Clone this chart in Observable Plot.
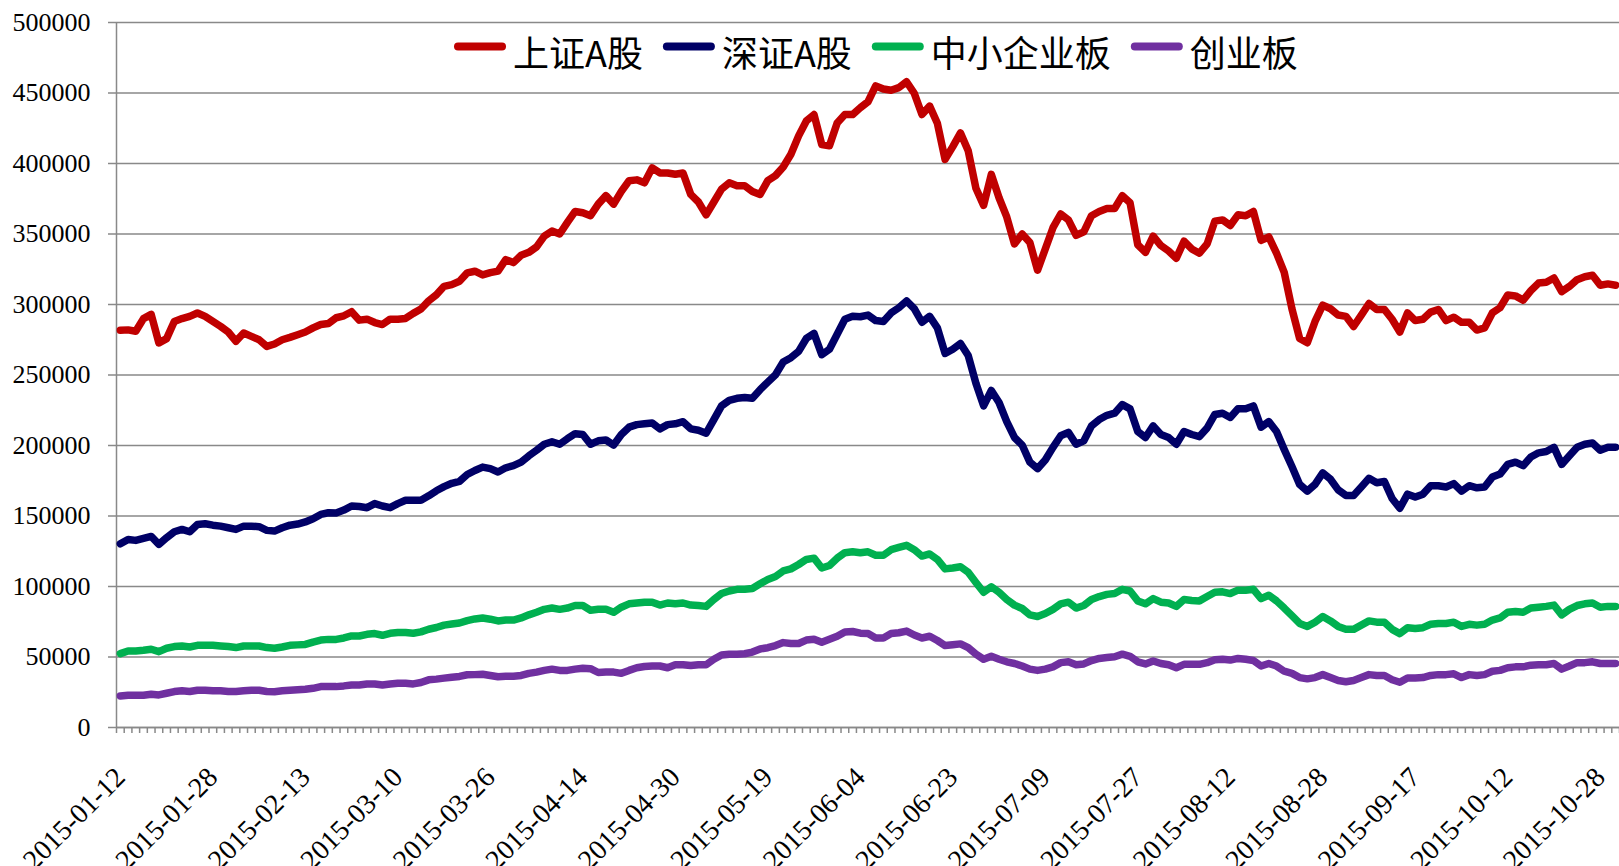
<!DOCTYPE html>
<html><head><meta charset="utf-8">
<script src="https://cdn.jsdelivr.net/npm/d3@7"></script>
<script src="https://cdn.jsdelivr.net/npm/@observablehq/plot@0.6"></script>
<style>
body{margin:0;background:#fff}
#chart{position:relative;width:1619px;height:866px;overflow:hidden}
#chart svg text{font-family:"Liberation Serif","Times New Roman","DejaVu Serif",serif !important;}
#chart svg text.lgtext{font-family:"Noto Sans CJK SC","Noto Sans",sans-serif !important;}
</style>
</head><body><div id="chart"></div>
<script>
const dates = [
"2015-01-12","2015-01-13","2015-01-14","2015-01-15","2015-01-16","2015-01-19","2015-01-20","2015-01-21","2015-01-22","2015-01-23","2015-01-26","2015-01-27","2015-01-28","2015-01-29","2015-01-30",
"2015-02-02","2015-02-03","2015-02-04","2015-02-05","2015-02-06","2015-02-09","2015-02-10","2015-02-11","2015-02-12","2015-02-13","2015-02-16","2015-02-17","2015-02-25","2015-02-26","2015-02-27",
"2015-03-02","2015-03-03","2015-03-04","2015-03-05","2015-03-06","2015-03-09","2015-03-10","2015-03-11","2015-03-12","2015-03-13","2015-03-16","2015-03-17","2015-03-18","2015-03-19","2015-03-20","2015-03-23","2015-03-24","2015-03-25","2015-03-26","2015-03-27","2015-03-30","2015-03-31",
"2015-04-01","2015-04-02","2015-04-03","2015-04-07","2015-04-08","2015-04-09","2015-04-10","2015-04-13","2015-04-14","2015-04-15","2015-04-16","2015-04-17","2015-04-20","2015-04-21","2015-04-22","2015-04-23","2015-04-24","2015-04-27","2015-04-28","2015-04-29","2015-04-30",
"2015-05-04","2015-05-05","2015-05-06","2015-05-07","2015-05-08","2015-05-11","2015-05-12","2015-05-13","2015-05-14","2015-05-15","2015-05-18","2015-05-19","2015-05-20","2015-05-21","2015-05-22","2015-05-25","2015-05-26","2015-05-27","2015-05-28","2015-05-29",
"2015-06-01","2015-06-02","2015-06-03","2015-06-04","2015-06-05","2015-06-08","2015-06-09","2015-06-10","2015-06-11","2015-06-12","2015-06-15","2015-06-16","2015-06-17","2015-06-18","2015-06-19","2015-06-23","2015-06-24","2015-06-25","2015-06-26","2015-06-29","2015-06-30",
"2015-07-01","2015-07-02","2015-07-03","2015-07-06","2015-07-07","2015-07-08","2015-07-09","2015-07-10","2015-07-13","2015-07-14","2015-07-15","2015-07-16","2015-07-17","2015-07-20","2015-07-21","2015-07-22","2015-07-23","2015-07-24","2015-07-27","2015-07-28","2015-07-29","2015-07-30","2015-07-31",
"2015-08-03","2015-08-04","2015-08-05","2015-08-06","2015-08-07","2015-08-10","2015-08-11","2015-08-12","2015-08-13","2015-08-14","2015-08-17","2015-08-18","2015-08-19","2015-08-20","2015-08-21","2015-08-24","2015-08-25","2015-08-26","2015-08-27","2015-08-28","2015-08-31",
"2015-09-01","2015-09-02","2015-09-07","2015-09-08","2015-09-09","2015-09-10","2015-09-11","2015-09-14","2015-09-15","2015-09-16","2015-09-17","2015-09-18","2015-09-21","2015-09-22","2015-09-23","2015-09-24","2015-09-25","2015-09-28","2015-09-29","2015-09-30",
"2015-10-08","2015-10-09","2015-10-12","2015-10-13","2015-10-14","2015-10-15","2015-10-16","2015-10-19","2015-10-20","2015-10-21","2015-10-22","2015-10-23","2015-10-26","2015-10-27","2015-10-28","2015-10-29","2015-10-30"
];

const seriesNames = ["上证A股", "深证A股", "中小企业板", "创业板"];
const seriesColors = ["#C00000", "#000066", "#00B050", "#7030A0"];

const shanghaiA = [
281700,282000,281000,290000,293000,272700,275800,288000,290000,291600,294000,291600,288000,284500,280500,273900,279800,277400,275000,270300,272000,275000,276700,278600,
280500,283400,285800,286500,290600,292000,294900,288900,289600,287200,285800,289600,289600,290100,293700,296800,302600,306900,312900,314100,316500,322400,323600,321000,322600,
323700,331800,329700,334900,337000,340900,348500,352100,350000,358200,366000,365100,363000,371200,377200,371200,380200,387800,388400,386300,396900,393300,393300,
392400,393300,378100,372700,363600,372700,381800,386300,384200,384200,380200,378100,387800,391400,397500,406600,419600,430200,434700,413500,412600,428700,434700,434700,
439500,443800,455000,452800,451900,453800,458000,449800,434700,440700,428600,402900,412000,421700,409000,382400,370300,392300,375700,362100,343000,350000,343900,324300,339400,354500,
364200,360000,349100,351500,363000,366000,368100,368100,377200,372100,342400,337000,348500,341800,337900,332800,344900,339400,336400,343000,359100,360000,356000,363600,
363000,366000,345500,347900,336400,322800,297000,275900,272900,288000,299500,297000,292500,291600,284400,292500,300700,296500,296500,289500,280500,294000,288600,289500,294600,
296500,288600,291000,287400,287400,281900,283400,294000,297700,306700,306100,303100,309800,315200,315800,318800,309100,312800,317600,319700,320700,313700,314600,313700
];

const shenzhenA = [
130300,133400,132700,134100,135500,129900,134600,138800,140500,138800,144000,144500,143500,142800,141700,140500,142800,142800,142400,139800,139300,141700,143500,144300,
145800,148000,151100,152300,152100,154200,157100,156700,155900,158800,157100,155900,158800,161200,161200,161200,164300,167900,170800,173200,174600,179400,182300,184700,
183600,181200,184200,185700,188200,192700,196600,200900,202700,200900,204800,208400,207800,200900,203300,203900,200300,207800,213000,214800,215400,216000,211800,214800,
215400,216900,211800,210800,208700,218400,228100,232000,233500,234100,233500,239600,245000,250200,259200,262300,266800,275900,279500,264400,268300,278900,289500,291600,
291300,292500,288600,288000,294000,297700,302500,297000,287400,291600,283400,265300,268300,272300,263800,244100,228100,239000,230500,216900,205700,200300,188200,183600,189700,198700,
206900,209300,200900,203300,213900,218400,221400,222900,229000,226000,209900,205700,213900,207800,205700,200900,209900,207800,206300,212400,222000,222900,219900,226000,
226000,228100,213000,216900,209900,197200,185100,172400,167600,172400,180600,176100,168500,164600,164600,170600,176700,173600,174500,162400,155500,165500,163400,165500,171500,
171500,170600,173000,167600,171500,170000,170600,177600,179700,186600,188200,185700,191800,194800,195700,198700,186600,192700,198700,200900,201800,196600,198700,198700
];

const smeBoard = [
52400,54300,54300,54800,55500,53800,56200,57400,57800,57100,58300,58300,58300,57800,57400,56700,57800,57800,57800,56700,56200,57100,58300,58600,
58900,60600,62000,62500,62500,63500,64900,64900,66100,66600,65400,66800,67300,67300,66800,67800,69700,70900,72600,73400,74100,75800,77000,77600,
76800,75600,76200,76200,77700,79900,81700,83800,84700,83800,84700,86500,86500,83200,83800,83800,81700,85300,87700,88300,88900,88900,86800,88300,
87700,88300,86800,86500,85900,90800,95000,96800,98000,98000,98600,101900,105000,107100,111000,112500,115600,119200,120100,113100,114900,120100,124000,124600,
123900,124600,122200,122200,126100,127700,129200,126100,121600,123100,119200,112500,113100,114000,110100,102900,95900,99800,95900,90800,86800,84400,79900,78700,80800,83800,
87700,88900,84700,86500,90800,92900,94400,95000,98000,96800,89800,87700,91400,88900,88300,85900,90800,90100,89800,92900,95900,96200,95000,97400,
97400,98000,91400,93800,89800,84700,79300,73800,71700,74700,78700,75600,71700,69600,69600,72600,75600,74700,74700,69600,66600,70800,70200,70800,73200,
73800,73800,74700,71700,73200,72600,73200,76200,77700,81700,82300,81700,84700,85300,85900,86800,79900,83800,86500,87700,88300,85300,85900,85900
];

const chinext = [
22400,22900,22900,22900,23600,23100,24300,25500,26000,25500,26400,26400,26000,26000,25500,25500,26000,26400,26400,25500,25300,26000,26400,26700,
27100,27800,29000,29000,29000,29500,30200,30200,30900,30900,30200,30900,31400,31400,30900,31900,33800,34300,35000,35700,36200,37400,37500,37800,
36900,36000,36300,36300,36900,38400,39300,40500,41400,40500,40500,41400,42000,41700,39000,39300,39300,38400,40500,42400,43300,43600,43600,42400,
44500,44500,43900,44500,44500,48400,51400,52000,52000,52300,53500,55700,56600,58100,60200,59600,59600,62000,62600,60500,62600,64700,67800,68100,
66900,66600,63500,63500,66600,67200,68400,65600,63500,64700,61700,58100,58700,59300,56600,52000,48400,50500,48400,46600,45400,43600,41400,40500,41400,43000,
46000,46600,44500,45100,47500,49000,49600,50200,52000,50500,46600,45100,47200,45400,44500,42400,44800,44800,44800,46000,48100,48400,47800,49000,
48400,47500,43600,45400,43600,39900,38400,35400,34500,35400,37500,35400,33300,32400,33300,35400,37500,36900,36900,33900,32100,35100,35100,35400,36900,
37500,37500,38100,35400,37500,36900,37500,39900,40500,42400,43000,43000,44200,44500,44500,45400,41400,43600,46000,46000,46600,45400,45400,45400
];

const yTicks = [0, 50000, 100000, 150000, 200000, 250000, 300000, 350000, 400000, 450000, 500000];
const labelEvery = 12;

const valuesBySeries = [shanghaiA, shenzhenA, smeBoard, chinext];
const rows = [];
valuesBySeries.forEach((vals, s) => vals.forEach((v, i) => rows.push({i, date: dates[i], series: seriesNames[s], value: v})));
const labelIdx = dates.map((d, i) => i).filter(i => i % labelEvery === 0);
const catEdges = dates.map((d, i) => i - 0.5).concat([dates.length - 0.5]);
const xDomain = [-0.5, dates.length - 0.5];

const grey = "#898989";
const serif = "'Liberation Serif', 'Times New Roman', 'DejaVu Serif', serif";
const chart = Plot.plot({
  width: 1619, height: 866,
  marginLeft: 116, marginRight: 0, marginTop: 22, marginBottom: 139,
  style: {fontFamily: serif, fontSize: "26px", color: "#000", background: "#fff"},
  x: {type: "linear", domain: xDomain},
  y: {domain: [0, 500000]},
  color: {domain: seriesNames, range: seriesColors},
  marks: [
    Plot.gridY({ticks: yTicks, stroke: grey, strokeOpacity: 1, strokeWidth: 1.5}),
    Plot.axisY({ticks: yTicks, tickSize: 8, tickPadding: 18, tickFormat: d => String(d), stroke: grey, strokeWidth: 1.5, fill: "#000", fontSize: 26, fontFamily: serif, label: null}),
    Plot.axisX({ticks: catEdges, tickSize: 6, tickFormat: () => "", stroke: grey, strokeWidth: 1.5, label: null}),
    Plot.axisX({ticks: labelIdx, tickSize: 0, tickPadding: 45, tickRotate: -45, tickFormat: i => dates[i], fill: "#000", fontSize: 28, fontFamily: serif, label: null}),
    Plot.ruleX([xDomain[0]], {stroke: grey, strokeWidth: 1.5}),
    Plot.ruleY([0], {stroke: grey, strokeWidth: 1.5}),
    Plot.line(rows, {x: "i", y: "value", z: "series", stroke: "series", strokeWidth: 7.5, strokeLinejoin: "round", strokeLinecap: "round"})
  ]
});
document.getElementById("chart").appendChild(chart);

d3.select(chart).selectAll("text").style("font-family", serif);

// legend inside the plot area, top center
const svg = d3.select(chart);
const lg = svg.append("g").attr("class", "legend").attr("text-anchor", "start");
let cursor = 454;
seriesNames.forEach((name, k) => {
  lg.append("line").attr("x1", cursor + 4).attr("x2", cursor + 48).attr("y1", 46.5).attr("y2", 46.5)
    .attr("stroke", seriesColors[k]).attr("stroke-width", 8).attr("stroke-linecap", "round");
  const tx = cursor + 59;
  const t = lg.append("text").attr("class", "lgtext").attr("x", tx).attr("y", 67).text(name)
    .attr("text-anchor", "start")
    .style("font-family", "'Noto Sans CJK SC', 'Noto Sans', sans-serif").attr("font-size", 36)
    .attr("fill", "#000");
  const w = t.node().getComputedTextLength();
  cursor = tx + w + 20;
});
</script>
</body></html>
